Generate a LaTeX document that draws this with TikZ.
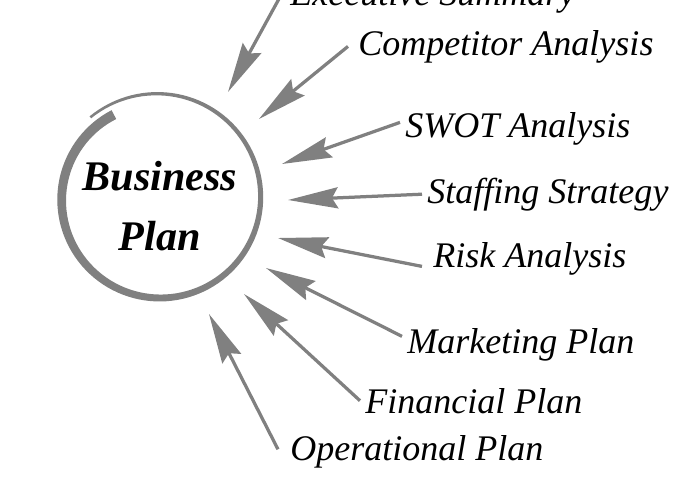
\documentclass[tikz,border=0pt]{standalone}
\usepackage{fontspec}
\setmainfont{Liberation Serif}
\usetikzlibrary{calc,arrows.meta}
\definecolor{ringgray}{RGB}{128,128,128}
\tikzset{
  lbl/.style={anchor=base west,inner xsep=0.1cm,inner ysep=0,font=\fontsize{20.5}{24}\selectfont\itshape},
  arr/.style={draw=ringgray,line width=0.065cm,-{Stealth[length=1cm,width=0.42cm,inset=0.12cm]}}
}
\begin{document}
\begin{tikzpicture}[x=0.02cm,y=-0.02cm]
\useasboundingbox (0,0) rectangle (700,501);
\pgfmathsetmacro{\cx}{158.5}
\pgfmathsetmacro{\cy}{198.5}

% brush ring, thick at its start and thin at its end
\fill[ringgray] plot[domain=0:372,samples=120,variable=\s]
 ({\cx+(100+7.25*\s/372)*cos(242-\s)},{\cy+(100+7.25*\s/372)*sin(242-\s)})
 -- plot[domain=372:0,samples=120,variable=\s]
 ({\cx+(90+14.75*\s/372)*cos(242-\s)},{\cy+(90+14.75*\s/372)*sin(242-\s)}) -- cycle;

\node[font=\fontsize{24}{34}\selectfont\bfseries\itshape,align=center,inner sep=0] (bp) at (160,206) {Business\\Plan};

\node[lbl] (exe) at (285,5) {Executive Summary};
\node[lbl] (comp) at (353,55) {Competitor Analysis};
\node[lbl] (swot) at (400,137) {SWOT Analysis};
\node[lbl] (staff) at (422,203) {Staffing Strategy};
\node[lbl] (risk) at (428,267) {Risk Analysis};
\node[lbl] (mark) at (402,353) {Marketing Plan};
\node[lbl] (fin) at (360,413) {Financial Plan};
\node[lbl] (oper) at (285,460) {Operational Plan};

\path (228,92) coordinate (te) (259,119) coordinate (tc) (282,164) coordinate (tw)
(288,200) coordinate (ts) (278,238) coordinate (tr) (266,268) coordinate (tm)
(244,294) coordinate (tf) (209,314) coordinate (to);

\draw[arr] ($(exe.west)+(-5,0)$) -- (te);
\draw[arr] ($(comp.west)+(-5,0)$) -- (tc);
\draw[arr] ($(swot.west)+(0,-6)$) -- (tw);
\draw[arr] (staff.west) -- (ts);
\draw[arr] ($(risk.west)+(-6,8)$) -- (tr);
\draw[arr] ($(mark.west)+(0,-8)$) -- (tm);
\draw[arr] (fin.west) -- (tf);
\draw[arr] ($(oper.west)+(-7,-2)$) -- (to);

\end{tikzpicture}
\end{document}
